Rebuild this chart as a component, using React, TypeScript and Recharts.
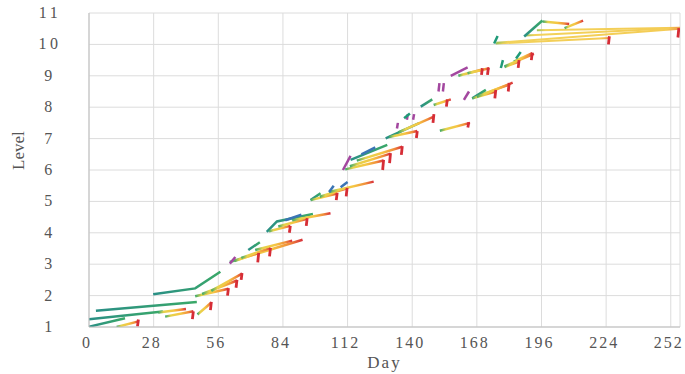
import React from 'react'
import { LineChart, Line, XAxis, YAxis, CartesianGrid } from 'recharts'

type Pt = [number, number]

const dayTicks = [0, 28, 56, 84, 112, 140, 168, 196, 224, 252]
const levelTicks = [1, 2, 3, 4, 5, 6, 7, 8, 9, 10, 11]

// group starts, drawn in teal
const tealRuns: Pt[][] = [
  [[3, 1.52], [46.7, 1.8]],
  [[0, 1.25], [32, 1.49]],
  [[0, 1.01], [15.6, 1.28]],
  [[27.8, 2.04], [46, 2.23], [56.9, 2.76]],
  [[69, 3.45], [74, 3.7]],
  [[77, 4.03], [81.4, 4.36], [97, 4.6]],
  [[96, 5.04], [100.3, 5.26]],
  [[113.3, 6.32], [129.2, 6.8]],
  [[128.5, 7.01], [143, 7.49]],
  [[143.7, 8.02], [148.7, 8.25]],
  [[166, 8.28], [171.9, 8.55]],
  [[188.5, 10.25], [196.4, 10.76]],
]

// [startDay, startLevel, endDay, endLevel]
const arrows: number[][] = [
  [12, 1.0, 21.4, 1.18],
  [30, 1.46, 42, 1.57],
  [33, 1.33, 45.2, 1.5],
  [47, 1.4, 53, 1.78],
  [46, 1.98, 60.4, 2.22],
  [49, 2.05, 64.1, 2.48],
  [53, 2.15, 66.3, 2.7],
  [61, 3.07, 92.5, 3.78],
  [63, 3.1, 73.5, 3.36],
  [66, 3.2, 78.6, 3.52],
  [72, 3.45, 88, 3.75],
  [78, 4.05, 87.2, 4.22],
  [82, 4.2, 94.5, 4.45],
  [88, 4.4, 104.6, 4.62],
  [96, 5.04, 107.5, 5.25],
  [100, 5.15, 111.8, 5.42],
  [104, 5.3, 123.3, 5.63],
  [111, 6.02, 127.6, 6.3],
  [113, 6.12, 130.6, 6.52],
  [116, 6.3, 135.7, 6.74],
  [130, 7.05, 142.2, 7.24],
  [134, 7.2, 149.4, 7.7],
  [152, 7.25, 165, 7.5],
  [149.3, 8.07, 156.7, 8.25],
  [166, 8.28, 176.2, 8.5],
  [170, 8.4, 182, 8.72],
  [168, 8.33, 183.5, 8.78],
  [160, 9.0, 170.4, 9.2],
  [164, 9.08, 173.4, 9.24],
  [180, 9.28, 186.3, 9.45],
  [184, 9.45, 192, 9.72],
  [180, 9.3, 192.7, 9.7],
  [196.5, 10.73, 208, 10.65],
  [206, 10.52, 214, 10.76],
]

// long flat runs at the top
const longRuns: number[][] = [
  [176.2, 10.03, 225.4, 10.2],
  [176.5, 10.05, 256, 10.5],
  [189, 10.28, 256, 10.52],
  [194, 10.45, 256, 10.53],
]

// [day, lowLevel, highLevel]
const endTicks: number[][] = [
  [21.4, 1.02, 1.24], [45.2, 1.25, 1.5], [53, 1.54, 1.8],
  [60.4, 2.0, 2.24], [64.1, 2.25, 2.5], [66.3, 2.5, 2.72],
  [73.5, 3.06, 3.36], [78.6, 3.25, 3.52],
  [87.2, 4.0, 4.22], [94.5, 4.22, 4.47],
  [107.5, 5.04, 5.27], [111.8, 5.16, 5.43],
  [127.6, 6.0, 6.32], [130.6, 6.22, 6.54], [135.7, 6.48, 6.76],
  [142.2, 7.02, 7.24], [149.4, 7.5, 7.78], [164.5, 7.35, 7.52],
  [155.2, 8.02, 8.25], [176.2, 8.28, 8.55], [182, 8.5, 8.77],
  [170.4, 9.03, 9.24], [173, 9.03, 9.26], [186.3, 9.25, 9.5], [192, 9.5, 9.74],
  [225.4, 10.0, 10.26], [255.5, 10.22, 10.52],
]

const purpleMarks: Pt[][] = [
  [[61, 3.02], [63.4, 3.23]],
  [[110, 6.0], [113.3, 6.45]],
  [[133.4, 7.32], [133.8, 7.5]],
  [[137.7, 7.6], [138.1, 7.78]],
  [[140.4, 7.6], [140.8, 7.78]],
  [[151.4, 8.5], [151.8, 8.77]],
  [[153.3, 8.5], [153.7, 8.77]],
  [[162.4, 8.23], [164.6, 8.5]],
  [[156.7, 9.0], [164, 9.27]],
]

const blueMarks: Pt[][] = [
  [[104, 5.3], [106, 5.5]],
  [[109, 5.45], [112, 5.62]],
  [[118, 6.5], [124, 6.72]],
  [[85, 4.4], [92, 4.58]],
]

const tealMarks: Pt[][] = [
  [[178.4, 9.25], [179.3, 9.5]],
  [[185, 9.55], [187, 9.76]],
  [[175.5, 10.03], [177, 10.27]],
  [[136.5, 7.65], [139, 7.8]],
]

const serif = '"Liberation Serif", "DejaVu Serif", serif'
const labelStyle = { fontFamily: serif }

const toRows = (pts: Pt[]) => pts.map(([x, y]) => ({ x, y }))

function YTick(props: any) {
  const { x, y, payload } = props
  return (
    <text x={x - 31} y={y + 5} textAnchor="middle" style={labelStyle} fontSize={16} fill="#555" letterSpacing={3.5}>
      {payload.value}
    </text>
  )
}

function XTick(props: any) {
  const { x, y, payload } = props
  return (
    <text x={x - 2} y={y + 13} textAnchor="middle" style={labelStyle} fontSize={16} fill="#555" letterSpacing={2}>
      {payload.value}
    </text>
  )
}

export default function App() {
  let k = 0
  const seg = (rows: { x: number; y: number }[], stroke: string, width = 2.5) => (
    <Line
      key={k++}
      data={rows}
      dataKey="y"
      type="linear"
      stroke={stroke}
      strokeWidth={width}
      dot={false}
      activeDot={false}
      legendType="none"
      isAnimationActive={false}
    />
  )

  return (
    <div style={{ position: 'absolute', left: 0, top: 0 }}>
      <LineChart width={685} height={374} margin={{ top: 13, right: 5, left: 0, bottom: 7 }}>
        <defs>
          <linearGradient id="arrowGrad" x1="0" y1="0" x2="1" y2="0">
            <stop offset="0%" stopColor="#3aa86a" />
            <stop offset="20%" stopColor="#e6d24c" />
            <stop offset="55%" stopColor="#f5c643" />
            <stop offset="82%" stopColor="#f08d3a" />
            <stop offset="100%" stopColor="#d8303a" />
          </linearGradient>
          <linearGradient id="tealGrad" x1="0" y1="0" x2="1" y2="0">
            <stop offset="0%" stopColor="#2a8f86" />
            <stop offset="100%" stopColor="#3aa868" />
          </linearGradient>
          <linearGradient id="longGrad" x1="0" y1="0" x2="1" y2="0">
            <stop offset="0%" stopColor="#9cc25a" />
            <stop offset="6%" stopColor="#f2d25a" />
            <stop offset="92%" stopColor="#f4cc55" />
            <stop offset="100%" stopColor="#ee9a48" />
          </linearGradient>
        </defs>
        <CartesianGrid stroke="#dcdcdc" strokeWidth={1} />
        <XAxis
          type="number"
          dataKey="x"
          domain={[0, 256]}
          ticks={dayTicks}
          allowDataOverflow
          height={40}
          stroke="#bfbfbf"
          tickLine={false}
          tick={<XTick />}
          label={{ value: 'Day', position: 'insideBottom', offset: -1, style: labelStyle, fontSize: 17, fill: '#555', letterSpacing: 2 }}
        />
        <YAxis
          type="number"
          domain={[1, 11]}
          ticks={levelTicks}
          allowDataOverflow
          width={89}
          stroke="#bfbfbf"
          tickLine={false}
          tick={<YTick />}
          label={{ value: 'Level', angle: -90, position: 'insideLeft', offset: 18, style: labelStyle, fontSize: 17, fill: '#555' }}
        />
        {longRuns.map(([x1, y1, x2, y2]) => seg(toRows([[x1, y1], [x2, y2]]), 'url(#longGrad)', 2))}
        {tealRuns.map((pts) => seg(toRows(pts), 'url(#tealGrad)', 2.5))}
        {arrows.map(([x1, y1, x2, y2]) => seg(toRows([[x1, y1], [x2, y2]]), 'url(#arrowGrad)', 2.5))}
        {purpleMarks.map((pts) => seg(toRows(pts), '#a3479f', 2.5))}
        {blueMarks.map((pts) => seg(toRows(pts), '#3a74b4', 2.5))}
        {tealMarks.map((pts) => seg(toRows(pts), '#1f9a78', 2.5))}
        {endTicks.map(([x, lo, hi]) => seg(toRows([[x - 0.4, lo], [x, hi]]), '#d62d36', 2.8))}
      </LineChart>
    </div>
  )
}
